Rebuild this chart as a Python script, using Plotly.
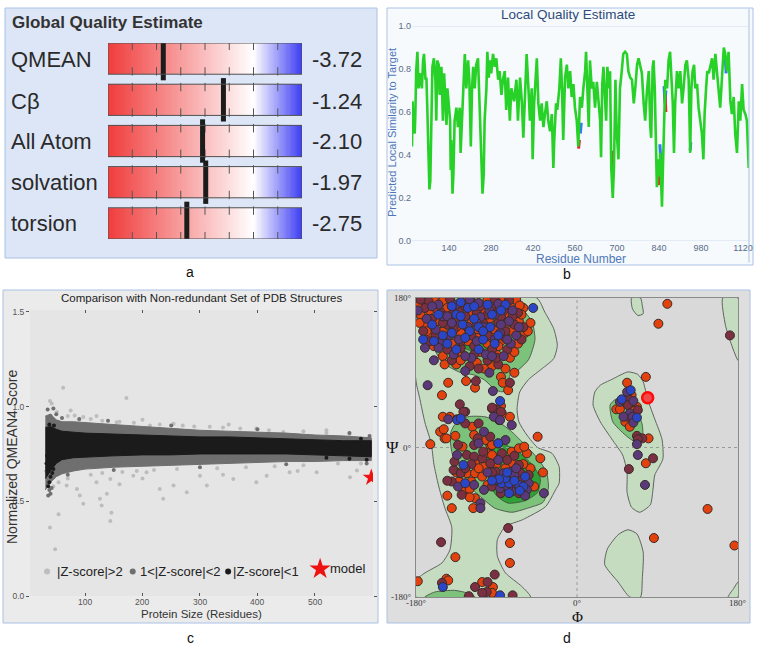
import plotly.graph_objects as go
import numpy as np

W, H = 759, 658
def px(x): return x / W
def py(y): return 1 - y / H

# ---------------- Panel a: global quality estimate ----------------
qa_labels = ["QMEAN", "Cβ", "All Atom", "solvation", "torsion"]
qa_values = [-3.72, -1.24, -2.10, -1.97, -2.75]
qa_value_text = ["-3.72", "-1.24", "-2.10", "-1.97", "-2.75"]
qa_scale = [-6, 2]
qa_ticks = [-5, -4, -3, -2, -1, 0, 1]

# ---------------- Panel b: local quality estimate ----------------
res_b = [17, 19, 21, 26, 28, 31, 35, 39, 46, 50, 54, 57, 62, 65, 68, 73, 75, 78, 82, 85, 90, 95, 98, 101, 106, 109,
         115, 120, 124, 128, 132, 135, 139, 144, 146, 148, 152, 155, 159, 165, 170, 176, 179, 184, 188, 193, 198,
         204, 208, 213, 217, 221, 226, 231, 237, 240, 245, 248, 252, 256, 259, 265, 268, 273, 276, 281, 287, 293,
         298, 304, 309, 315, 320, 326, 331, 337, 343, 348, 357, 365, 370,
         377, 383, 388, 394, 399, 405, 410, 416, 419, 424, 433, 438, 444, 449, 455, 460, 466, 471, 477, 483, 488,
         491, 497, 501, 508, 513, 517, 521, 527, 533, 538, 544, 549, 555, 560, 566, 571, 577, 583, 588, 594, 597,
         601, 606, 610, 616, 621, 627, 633, 638, 644, 647, 651, 655, 660, 664, 668, 673, 677, 681, 686, 690, 695,
         699, 705, 710, 716, 721, 727, 733, 738, 744,
         750, 756, 761, 767, 772, 778, 783, 789, 794, 800, 806, 811, 814, 819, 822, 826, 830, 833, 837, 841, 844,
         848, 850, 853, 857, 861, 867, 872, 877, 881, 886, 890, 894, 900, 906, 911, 917, 922, 928, 933, 939, 944,
         948, 952, 957, 961, 967, 972, 978, 983, 988, 992, 997, 1001, 1006, 1011, 1017, 1022, 1028, 1033, 1039,
         1044, 1050, 1056, 1061, 1067, 1072, 1078, 1083, 1089, 1094, 1100, 1106, 1111, 1117, 1122, 1128, 1133, 1139]
score_b = [0.44, 0.65, 0.56, 0.50, 0.58, 0.79, 0.88, 0.71, 0.78, 0.71, 0.84, 0.87, 0.75, 0.76, 0.62, 0.36, 0.24, 0.28,
           0.62, 0.81, 0.85, 0.75, 0.56, 0.84, 0.82, 0.68, 0.81, 0.56, 0.78, 0.68, 0.54, 0.71, 0.64, 0.56, 0.33, 0.47,
           0.22, 0.31, 0.56, 0.62, 0.53, 0.62, 0.41, 0.59, 0.78, 0.87, 0.71, 0.84, 0.75, 0.44, 0.71, 0.81, 0.71, 0.82,
           0.85, 0.71, 0.56, 0.33, 0.22, 0.31, 0.56, 0.71, 0.88, 0.76, 0.84, 0.78, 0.87, 0.81, 0.85, 0.75, 0.79, 0.68,
           0.75, 0.79, 0.61, 0.76, 0.56, 0.71, 0.65, 0.75, 0.56,
           0.76, 0.65, 0.48, 0.71, 0.87, 0.71, 0.56, 0.71, 0.38, 0.64, 0.85, 0.64, 0.56, 0.64, 0.53, 0.59, 0.65, 0.56,
           0.51, 0.59, 0.34, 0.47, 0.64, 0.61, 0.71, 0.85, 0.71, 0.47, 0.76, 0.82, 0.71, 0.79, 0.67, 0.73, 0.62, 0.56,
           0.44, 0.67, 0.62, 0.71, 0.79, 0.88, 0.71, 0.53, 0.84, 0.71, 0.74, 0.62, 0.74, 0.64, 0.56, 0.39, 0.73, 0.81,
           0.62, 0.56, 0.81, 0.71, 0.79, 0.34, 0.20, 0.34, 0.75, 0.51, 0.38, 0.71, 0.79, 0.87, 0.88, 0.87, 0.79, 0.76,
           0.75, 0.64, 0.71, 0.82, 0.85, 0.81, 0.78, 0.64, 0.56, 0.70, 0.79, 0.53, 0.48, 0.81, 0.84, 0.71, 0.48, 0.25,
           0.38, 0.30, 0.41, 0.22, 0.16, 0.33, 0.56, 0.75, 0.71, 0.84, 0.88, 0.79, 0.64, 0.41, 0.64, 0.79, 0.71, 0.79,
           0.64, 0.71, 0.82, 0.84, 0.75, 0.41, 0.71, 0.79, 0.82, 0.71, 0.73, 0.62, 0.56, 0.50, 0.38, 0.59, 0.71, 0.79,
           0.78, 0.82, 0.85, 0.75, 0.87, 0.79, 0.71, 0.62, 0.76, 0.90, 0.87, 0.79, 0.88, 0.65, 0.59, 0.67, 0.50, 0.41,
           0.65, 0.56, 0.73, 0.61, 0.59, 0.56, 0.34]
blue_segments = [([843, 846, 849], [0.45, 0.35, 0.30]), ([857, 860, 863], [0.72, 0.64, 0.70]),
                 ([578, 581], [0.50, 0.55]), ([944, 946], [0.42, 0.46]), ([1061, 1064], [0.85, 0.78])]
red_segments = [([860, 863], [0.68, 0.60]), ([683, 687], [0.42, 0.30]), ([572, 575], [0.43, 0.47]),
                ([838, 841], [0.26, 0.33])]
ticks_b = [140, 280, 420, 560, 700, 840, 980, 1120]

# ---------------- Panel c: comparison with PDB ----------------
band_res = [31, 40, 50, 60, 80, 100, 150, 200, 250, 300, 350, 400, 450, 500, 550, 598]
dark_upper = [0.95, 0.96, 0.93, 0.92, 0.92, 0.915, 0.905, 0.895, 0.885, 0.875, 0.87, 0.865, 0.86, 0.85, 0.845, 0.835]
dark_lower = [0.56, 0.60, 0.63, 0.645, 0.66, 0.67, 0.68, 0.685, 0.69, 0.695, 0.70, 0.705, 0.71, 0.71, 0.715, 0.715]
black_upper = [0.89, 0.895, 0.88, 0.87, 0.865, 0.86, 0.855, 0.85, 0.845, 0.84, 0.84, 0.835, 0.83, 0.825, 0.82, 0.82]
black_lower = [0.62, 0.66, 0.70, 0.72, 0.73, 0.735, 0.74, 0.745, 0.745, 0.75, 0.75, 0.75, 0.75, 0.745, 0.74, 0.735]
light_pts = [(62, 1.10), (42, 1.016), (82, 0.953), (172, 1.045), (39, 1.03), (51, 0.972), (97, 0.945), (155, 0.918),
             (213, 0.90), (254, 0.91), (317, 0.893), (398, 0.885), (445, 0.866), (532, 0.84), (596, 0.82),
             (45, 0.627), (54, 0.60), (68, 0.583), (86, 0.565), (91, 0.53), (97, 0.487), (126, 0.513), (129, 0.478),
             (138, 0.54), (144, 0.618), (184, 0.635), (207, 0.653), (230, 0.565), (236, 0.513), (254, 0.583),
             (277, 0.548), (300, 0.635), (312, 0.583), (358, 0.618), (398, 0.60), (416, 0.635), (456, 0.653),
             (503, 0.653), (561, 0.627), (573, 0.662), (39, 0.362), (48, 0.247), (54, 0.431), (144, 0.396),
             (146, 0.44), (45, 0.58), (70, 0.95), (90, 0.93), (110, 0.935), (130, 0.925), (160, 0.92),
             (185, 0.915), (230, 0.905), (270, 0.90), (290, 0.895), (340, 0.89), (370, 0.885), (420, 0.875),
             (480, 0.87), (520, 0.86), (560, 0.855), (70, 0.62), (110, 0.64), (130, 0.65), (165, 0.655),
             (190, 0.66), (220, 0.665), (260, 0.67), (330, 0.675), (380, 0.68), (430, 0.685), (480, 0.69),
             (540, 0.70), (580, 0.70), (120, 0.60), (160, 0.59), (200, 0.62), (340, 0.64), (470, 0.66),
             (75, 0.98), (120, 0.95), (200, 0.93), (350, 0.905), (520, 0.875)]
dark_pts = [(35, 0.985), (40, 0.95), (45, 0.99), (50, 0.96), (38, 0.56), (40, 0.54), (42, 0.57), (36, 0.53),
            (33, 0.66), (35, 0.64), (60, 0.94), (90, 0.935), (140, 0.925), (250, 0.9), (400, 0.88), (560, 0.86),
            (595, 0.845), (70, 0.64), (150, 0.665), (300, 0.68), (450, 0.695), (590, 0.70)]
black_pts = [(33, 0.70), (35, 0.68), (38, 0.60), (40, 0.63), (43, 0.65), (36, 0.58), (45, 0.67), (34, 0.74),
             (46, 0.90), (38, 0.905), (580, 0.83), (560, 0.725), (590, 0.72), (520, 0.73)]
model_pt = (598, 0.625)
ticks_c_x = [100, 200, 300, 400, 500]
ticks_c_y = [0.0, 0.5, 1.0, 1.5]
leg_dot_x = [34, 183, 349]
leg_text_x = [47, 192, 354]
leg_col = ["#bdbdbd", "#6f6f6f", "#1b1b1b"]
leg_txt = ["|Z-score|>2", "1<|Z-score|<2", "|Z-score|<1"]

# ---------------- Panel d: Ramachandran plot ----------------
ticks_d = [-180, 0, 180]
ticks_d_text = ["-180°", "0°", "180°"]
region_light = [
    [(-180, 180), (-45, 180), (-36, 163), (-26, 143), (-22, 123), (-26, 107), (-39, 95), (-54, 82), (-64, 67),
     (-67, 46), (-65, 31), (-56, 15), (-44, 0), (-28, -7), (-20, -23), (-20, -43), (-24, -51), (-35, -71),
     (-61, -87), (-80, -95), (-89, -111), (-89, -131), (-80, -151), (-62, -167), (-52, -180), (-180, -180),
     (-180, -160), (-170, -151), (-151, -139), (-142, -123), (-140, -96), (-148, -72), (-155, -45), (-160, -20),
     (-163, 5), (-170, 30), (-176, 60), (-180, 80)],
    [(20, 67), (18, 51), (26, 31), (39, 10), (51, -9), (56, -30), (56, -54), (61, -72), (70, -78), (82, -69),
     (85, -50), (87, -33), (96, -14), (95, 10), (87, 34), (79, 58), (74, 79), (68, 88), (57, 91), (39, 82), (26, 75)],
    [(61, 180), (62, 167), (68, 159), (74, 161), (73, 171), (71, 180)],
    [(46, -105), (34, -122), (31, -141), (46, -162), (59, -180), (71, -180), (73, -158), (74, -126), (67, -104),
     (57, -99)],
    [(163, 180), (166, 147), (173, 123), (180, 105), (180, 180)],
    [(169, -180), (175, -170), (180, -162), (180, -180)],
]
region_mid = [
    [(-180, 180), (-180, 159), (-173, 139), (-162, 123), (-151, 103), (-132, 91), (-114, 87), (-103, 81),
     (-92, 70), (-84, 67), (-78, 70), (-75, 87), (-65, 94), (-54, 106), (-47, 130), (-50, 151), (-58, 163),
     (-69, 177), (-69, 180)],
    [(-137, 27), (-122, 37), (-103, 37), (-88, 31), (-73, 19), (-58, 3), (-44, -13), (-34, -30), (-32, -49),
     (-38, -66), (-55, -73), (-73, -78), (-92, -73), (-106, -61), (-122, -45), (-133, -30), (-140, -5),
     (-142, 15)],
    [(37, 51), (40, 31), (54, 15), (65, 7), (73, 10), (73, 27), (68, 43), (63, 55), (52, 58), (43, 58)],
    [(-170, -180), (-159, -174), (-137, -172), (-120, -176), (-114, -180)],
]
region_dark = [
    [(-136, 147), (-120, 156), (-92, 151), (-80, 135), (-92, 120), (-120, 117), (-136, 127)],
    [(-97, 0), (-85, 5), (-66, -5), (-50, -21), (-41, -37), (-44, -54), (-58, -64), (-77, -67), (-90, -58),
     (-98, -42), (-100, -20)],
]
rama_orange = [
    (-172, 178), (-160, 178), (-150, 176), (-128, 178), (-100, 178), (-84, 176), (-68, 178), (-175, 160),
    (-165, 165), (-145, 168), (-120, 170), (-105, 165), (-90, 168), (-75, 170), (-60, 168), (-170, 148),
    (-155, 152), (-138, 155), (-118, 150), (-98, 155), (-80, 158), (-65, 152), (-52, 150), (-165, 135),
    (-150, 140), (-130, 138), (-110, 140), (-92, 142), (-72, 140), (-58, 138), (-160, 122), (-140, 125),
    (-122, 128), (-100, 125), (-85, 128), (-66, 125), (-150, 110), (-128, 112), (-108, 115), (-90, 112),
    (-75, 108), (-135, 100), (-112, 102), (-95, 98), (-80, 95), (-70, 90), (-85, 85), (-64, 171),
    (-178, 170), (-168, 140), (-158, 168), (-135, 145), (-112, 132), (-95, 132), (-78, 150), (-62, 160),
    (-55, 140), (-148, 100), (-130, 105), (-104, 95), (-88, 122), (-70, 115), (-176, 150), (-118, 160),
    (-151, 63), (-144, 78), (-124, 80), (-114, 72), (-77, 69), (-83, 78),
    (-150, 37), (-142, 37), (-153, 19), (-148, 11), (-164, 4), (-95, 47), (-84, 41), (-75, 37), (-44, 13),
    (-41, -13), (-38, -30), (-145, -58), (-140, -73), (-116, -73), (-125, -51), (-128, 1), (-97, 3),
    (-101, -7), (-95, -9), (-73, -5), (-65, -1), (-56, -7), (-114, -19), (-104, -23), (-73, -19),
    (-123, -31), (-114, -31), (-106, -35), (-132, -41), (-118, -41), (-48, -47), (-127, -51), (-114, -61),
    (-117, 25), (-115, 15), (-102, 9), (-95, 3), (-88, 5), (-94, 47), (-85, 50), (-59, 1),
    (-149, 22), (-136, 14), (-146, 11), (-52, -25), (-120, -50),
    (-110, -25), (-100, -45), (-90, -20), (-80, -25), (-60, -20), (-135, -30), (-120, -60),
    (-75, -115), (-75, -139), (-136, -132), (-178, -161), (-146, -158), (-144, -160), (-106, -162),
    (-94, -168), (-95, -175),
    (101, 173), (91, 149), (77, 85), (56, 78), (80, 11), (77, -19), (146, -74), (86, -109), (176, -118),
    (61, 63), (44, 46), (48, 46), (62, 48), (67, 49), (64, 44), (54, 31), (59, 25)]
rama_maroon = [
    (-166, 176), (-142, 179), (-118, 176), (-92, 179), (-76, 177), (-170, 168), (-152, 162), (-132, 165),
    (-112, 162), (-96, 168), (-82, 165), (-66, 162), (-162, 155), (-145, 148), (-125, 158), (-105, 150),
    (-88, 150), (-70, 148), (-172, 140), (-155, 130), (-138, 142), (-118, 135), (-100, 135), (-80, 132),
    (-62, 130), (-145, 118), (-130, 120), (-115, 122), (-95, 118), (-78, 118), (-140, 105), (-120, 98),
    (-100, 105), (-88, 100), (-75, 78), (-113, 80),
    (-175, 178), (-158, 135), (-140, 160), (-125, 170), (-108, 170), (-85, 158), (-72, 158), (-60, 145),
    (-150, 150), (-130, 128), (-115, 112), (-90, 108), (-165, 128), (-80, 140), (-100, 160), (-110, 95),
    (-131, 52), (-125, 43), (-89, 45), (-115, 3), (-84, -7), (-123, -9), (-115, -11), (-106, -13),
    (-97, -19), (-78, -15), (-65, -21), (-138, -27), (-130, -31), (-91, -29), (-63, -31), (-54, -33),
    (-140, -41), (-95, -47), (-65, -55), (-129, -57), (-134, 34), (-127, 43), (-125, 29), (-110, 29),
    (-111, 11), (-97, 13), (-87, 33), (-85, 43), (-95, 48), (-133, 3), (-62, -40), (-68, -47), (-137, -17),
    (-118, -20), (-70, -10), (-105, -5), (-95, -30), (-85, -55), (-125, -25), (-145, -40),
    (-77, -97), (-152, -114), (-151, -163), (-121, -179), (-114, -168), (-100, -162), (-101, -174),
    (-92, -153), (-72, -178), (-106, -175),
    (171, 135), (85, -13), (58, -26), (54, 58), (58, 58), (57, 51), (68, 45), (57, 37), (67, 14), (73, 11),
    (68, 10)]
rama_purple = [
    (-155, 172), (-135, 172), (-110, 174), (-88, 173), (-72, 165), (-168, 155), (-150, 158), (-130, 150),
    (-108, 157), (-92, 160), (-76, 152), (-158, 142), (-142, 135), (-122, 145), (-104, 145), (-86, 138),
    (-68, 135), (-150, 128), (-132, 130), (-112, 128), (-92, 130), (-74, 125), (-138, 112), (-118, 108),
    (-102, 112), (-82, 110), (-125, 92), (-98, 90), (-160, 105), (-167, 75), (-94, 68),
    (-178, 165), (-162, 170), (-145, 158), (-120, 178), (-98, 165), (-85, 148), (-65, 145), (-155, 120),
    (-125, 110), (-95, 110), (-140, 150), (-112, 150), (-78, 130), (-170, 120),
    (-110, 5), (-134, -9), (-88, -15), (-82, -31), (-73, -29), (-71, -39), (-54, -43), (-104, -51),
    (-86, -49), (-73, -53), (-56, -51), (-37, -55), (-108, -67), (-108, -73), (-144, 34), (-104, 19),
    (-93, 37), (-73, 27), (-80, 9), (-86, 33), (-70, -33), (-77, -48), (-133, -47),
    (-115, -45), (-100, -30), (-68, -25), (-58, -58),
    (56, 67), (48, 55), (63, 56), (59, 41), (52, 37), (62, 37), (63, 30), (67, 4), (68, -9), (76, -45)]
rama_blue = [
    (-140, 170), (-122, 168), (-100, 172), (-80, 172), (-162, 148), (-135, 160), (-115, 155), (-95, 160),
    (-128, 148), (-110, 145), (-140, 138), (-97, 145), (-120, 140), (-88, 135), (-145, 125), (-125, 132),
    (-105, 130), (-135, 118), (-110, 118), (-172, 130), (-49, 168), (-92, 125), (-86, 56),
    (-155, 160), (-130, 175), (-105, 140), (-150, 135), (-115, 170), (-85, 165), (-130, 158), (-160, 128),
    (-134, 33), (-88, 5), (-127, -21), (-125, -43), (-91, -39), (-84, -43), (-76, -43), (-65, -45),
    (-60, -47), (-76, -55), (-80, -37), (-58, -35), (-87, -38), (-130, 35),
    (-70, -40), (-95, -40), (-78, -30), (-64, -52),
    (-150, -168), (-86, -178),
    (60, 69), (50, 58), (67, 36)]
rama_flag = [(79, 60)]

# ================= Figure =================
fig = go.Figure()

# ---- Panel a ----
grad_edges = np.linspace(qa_scale[0], qa_scale[1], 161)
grad_centers = (grad_edges[:-1] + grad_edges[1:]) / 2
rows = list(range(len(qa_labels)))
fig.add_trace(go.Heatmap(
    x=grad_edges, y=[r - 0.5 for r in rows] + [rows[-1] + 0.5], z=[list(grad_centers)] * len(rows),
    zmin=qa_scale[0], zmax=qa_scale[1], showscale=False, ygap=10, hoverinfo="skip",
    colorscale=[[0, "#f03c3c"], [0.75, "#ffffff"], [1, "#3c3cf4"]], xaxis="x", yaxis="y"))
tick_x, tick_y = [], []
for r in rows:
    for t in qa_ticks:
        tick_x += [t, t]
        tick_y += [r - 0.31, r + 0.31]
fig.add_trace(go.Scatter(x=tick_x, y=tick_y, mode="markers", xaxis="x", yaxis="y", hoverinfo="skip",
                         marker=dict(symbol="line-ns", size=6, line=dict(color="#555555", width=1))))
fig.add_trace(go.Scatter(x=qa_values, y=rows, mode="markers", xaxis="x", yaxis="y", hoverinfo="skip",
                         marker=dict(symbol="line-ns", size=31, line=dict(color="#1c1c1c", width=5))))

# ---- Panel b ----
for xs, ys in blue_segments:
    fig.add_trace(go.Scatter(x=xs, y=ys, mode="lines", xaxis="x2", yaxis="y2", hoverinfo="skip",
                             line=dict(color="#2f7de8", width=3)))
for xs, ys in red_segments:
    fig.add_trace(go.Scatter(x=xs, y=ys, mode="lines", xaxis="x2", yaxis="y2", hoverinfo="skip",
                             line=dict(color="#e8262a", width=3)))
fig.add_trace(go.Scatter(x=res_b, y=score_b, mode="lines", xaxis="x2", yaxis="y2", hoverinfo="skip",
                         line=dict(color="#27d127", width=2.6)))

# ---- Panel c ----
fig.add_trace(go.Scatter(x=[p[0] for p in light_pts], y=[p[1] for p in light_pts], mode="markers",
                         xaxis="x3", yaxis="y3", hoverinfo="skip",
                         marker=dict(color="#bdbdbd", size=4)))
fig.add_trace(go.Scatter(x=band_res + band_res[::-1], y=dark_upper + dark_lower[::-1], mode="lines",
                         fill="toself", fillcolor="#6f6f6f", line=dict(color="#6f6f6f", width=1),
                         xaxis="x3", yaxis="y3", hoverinfo="skip"))
fig.add_trace(go.Scatter(x=[p[0] for p in dark_pts], y=[p[1] for p in dark_pts], mode="markers",
                         xaxis="x3", yaxis="y3", hoverinfo="skip",
                         marker=dict(color="#6f6f6f", size=4)))
fig.add_trace(go.Scatter(x=band_res + band_res[::-1], y=black_upper + black_lower[::-1], mode="lines",
                         fill="toself", fillcolor="#1b1b1b", line=dict(color="#1b1b1b", width=1),
                         xaxis="x3", yaxis="y3", hoverinfo="skip"))
fig.add_trace(go.Scatter(x=[p[0] for p in black_pts], y=[p[1] for p in black_pts], mode="markers",
                         xaxis="x3", yaxis="y3", hoverinfo="skip",
                         marker=dict(color="#1b1b1b", size=4)))
fig.add_trace(go.Scatter(x=[model_pt[0]], y=[model_pt[1]], mode="markers", xaxis="x3", yaxis="y3",
                         hoverinfo="skip", marker=dict(symbol="star", color="#ee1111", size=13)))
fig.add_trace(go.Scatter(x=leg_dot_x, y=[0.13] * 3, mode="markers", xaxis="x3", yaxis="y3", hoverinfo="skip",
                         marker=dict(color=leg_col, size=6)))
fig.add_trace(go.Scatter(x=[509], y=[0.143], mode="markers", xaxis="x3", yaxis="y3", hoverinfo="skip",
                         marker=dict(symbol="star", color="#ee1111", size=16)))

# ---- Panel d ----
def add_regions(polys, fill, edge):
    for poly in polys:
        fig.add_trace(go.Scatter(x=[p[0] for p in poly] + [poly[0][0]], y=[p[1] for p in poly] + [poly[0][1]],
                                 mode="lines", fill="toself", fillcolor=fill,
                                 line=dict(color=edge, width=1, shape="spline", smoothing=0.6),
                                 xaxis="x4", yaxis="y4", hoverinfo="skip"))
add_regions(region_light, "#c6dcc1", "#5d645d")
add_regions(region_mid, "#7cc27a", "#4f5f4f")
add_regions(region_dark, "#2fa035", "#3f5f3f")
fig.add_trace(go.Scatter(x=[0, 0], y=[-180, 180], mode="lines", xaxis="x4", yaxis="y4", hoverinfo="skip",
                         line=dict(color="#9a9a9a", width=1, dash="dot")))
fig.add_trace(go.Scatter(x=[-180, 180], y=[0, 0], mode="lines", xaxis="x4", yaxis="y4", hoverinfo="skip",
                         line=dict(color="#9a9a9a", width=1, dash="dot")))
for pts, col in [(rama_orange, "#e2420d"), (rama_maroon, "#7a3041"), (rama_purple, "#59397a"),
                 (rama_blue, "#2a46c8")]:
    fig.add_trace(go.Scatter(x=[p[0] for p in pts], y=[p[1] for p in pts], mode="markers",
                             xaxis="x4", yaxis="y4", hoverinfo="skip",
                             marker=dict(color=col, size=9, line=dict(color="#3a2a2a", width=1))))
fig.add_trace(go.Scatter(x=[p[0] for p in rama_flag], y=[p[1] for p in rama_flag], mode="markers",
                         xaxis="x4", yaxis="y4", hoverinfo="skip",
                         marker=dict(color="#f04a4a", size=11, line=dict(color="#ff0a0a", width=2.5))))

# ================= Layout =================
SANS = "Liberation Sans, Arial, sans-serif"
SERIF = "Liberation Serif, Times New Roman, serif"

shapes = [
    dict(type="rect", xref="paper", yref="paper", x0=px(5), x1=px(377), y0=py(258), y1=py(8),
         fillcolor="#dde6f7", line=dict(color="#a9c2e6", width=1), layer="below"),
    dict(type="rect", xref="paper", yref="paper", x0=px(387), x1=px(753), y0=py(265), y1=py(8),
         fillcolor="#f6fafd", line=dict(color="#a9c2e6", width=1), layer="below"),
    dict(type="rect", xref="paper", yref="paper", x0=px(3), x1=px(378), y0=py(623), y1=py(290),
         fillcolor="#ebebeb", line=dict(color="#a9c2e6", width=1), layer="below"),
    dict(type="rect", xref="paper", yref="paper", x0=px(387), x1=px(750), y0=py(623), y1=py(290),
         fillcolor="#dedede", line=dict(color="#a9c2e6", width=1), layer="below"),
    dict(type="rect", xref="x3 domain", yref="y3 domain", x0=0, x1=1, y0=0, y1=1,
         fillcolor="#e5e5e5", line=dict(width=0), layer="below"),
    dict(type="rect", xref="x4 domain", yref="y4 domain", x0=0, x1=1, y0=0, y1=1,
         fillcolor="#d9d9d9", line=dict(width=0), layer="below"),
    dict(type="line", xref="x2 domain", yref="y2", x0=0, x1=1, y0=1, y1=1,
         line=dict(color="#dce7f3", width=1.5), layer="below"),
    dict(type="line", xref="x2 domain", yref="y2", x0=0, x1=1, y0=0, y1=0,
         line=dict(color="#dce7f3", width=1.5), layer="below"),
    dict(type="line", xref="x2 domain", yref="y2 domain", x0=1, x1=1, y0=-0.1, y1=1.08,
         line=dict(color="#a9c2e6", width=1)),
]
for r in rows:
    shapes.append(dict(type="rect", xref="x", yref="y", x0=qa_scale[0], x1=qa_scale[1],
                       y0=r - 0.379, y1=r + 0.379, line=dict(color="#505050", width=1)))

def pa(text, x, y, size, color="#222222", family=SANS, xanchor="center", **kw):
    return dict(text=text, x=px(x), y=py(y), xref="paper", yref="paper", showarrow=False,
                xanchor=xanchor, yanchor="middle",
                font=dict(family=family, size=size, color=color), **kw)

ann = [pa("<b>Global Quality Estimate</b>", 10, 22, 17, "#333333", xanchor="left")]
row_px = [59, 101, 141.5, 182.5, 223.5]
for lab, val, ypx in zip(qa_labels, qa_value_text, row_px):
    ann.append(pa(lab, 9, ypx, 22, "#2a2a2a", xanchor="left"))
    ann.append(pa(val, 310, ypx, 22, "#2a2a2a", xanchor="left"))
ann += [
    pa("Local Quality Estimate", 568, 15, 13.5, "#2f4a78"),
    pa("Predicted Local Similarity to Target", 392, 133, 11, "#4f77b8", textangle=-90),
    pa("Residue Number", 581, 259, 12, "#4f77b8"),
    pa("Comparison with Non-redundant Set of PDB Structures", 201, 298, 11.5, "#222222"),
    pa("Normalized QMEAN4 Score", 12, 457, 14, "#333333", textangle=-90),
    pa("Protein Size (Residues)", 202, 614, 11.5, "#333333"),
    pa("Ψ", 392, 447, 17, "#111111", family=SERIF),
    pa("Φ", 577, 617, 15, "#111111", family=SERIF),
    pa("a", 190, 272, 14, "#111111"),
    pa("b", 567, 274.5, 14, "#111111"),
    pa("c", 190, 638, 14, "#111111"),
    pa("d", 567, 638, 14, "#111111"),
]
for tx, t in zip(leg_text_x, leg_txt):
    ann.append(dict(text=t, x=tx, y=0.13, xref="x3", yref="y3", xanchor="left", yanchor="middle",
                    showarrow=False, font=dict(family=SANS, size=13, color="#222222")))
ann.append(dict(text="model", x=522, y=0.143, xref="x3", yref="y3", xanchor="left", yanchor="middle",
                showarrow=False, font=dict(family=SANS, size=13, color="#222222")))
# x tick labels of panels c and d, placed on the axes' own scales
for v in ticks_c_x:
    ann.append(dict(text=str(v), x=v, y=py(601.5), xref="x3", yref="paper", xanchor="center",
                    yanchor="middle", showarrow=False, font=dict(family=SANS, size=8.5, color="#555555")))
for v, t in zip(ticks_d, ticks_d_text):
    ann.append(dict(text=t, x=v, y=py(602.5), xref="x4", yref="paper", xanchor="center",
                    yanchor="middle", showarrow=False, font=dict(family=SERIF, size=9, color="#333333")))

fig.update_layout(
    width=W, height=H, margin=dict(l=0, r=0, t=0, b=0, autoexpand=False), paper_bgcolor="white",
    plot_bgcolor="rgba(0,0,0,0)", showlegend=False, shapes=shapes, annotations=ann,
    xaxis=dict(domain=[px(108), px(302)], range=qa_scale, anchor="y", visible=False, automargin=False),
    yaxis=dict(domain=[py(239), py(43)], range=[4.379, -0.379], anchor="x", visible=False, automargin=False),
    xaxis2=dict(domain=[px(412), px(749)], range=[17, 1140], anchor="y2", tickvals=ticks_b, automargin=False,
                showgrid=False, zeroline=False, showline=False, ticks="",
                tickfont=dict(family=SANS, size=9, color="#5a6b88")),
    yaxis2=dict(domain=[py(241), py(26)], range=[0, 1], anchor="x2", tickvals=[0, 0.2, 0.4, 0.6, 0.8, 1.0],
                ticktext=["0.0", "0.2", "0.4", "0.6", "0.8", "1.0"], showgrid=False, zeroline=False,
                showline=False, ticks="", automargin=False, tickfont=dict(family=SANS, size=9, color="#5a6b88")),
    xaxis3=dict(domain=[px(30), px(373)], range=[4.3, 601], anchor="y3", tickvals=ticks_c_x, automargin=False,
                showgrid=False, zeroline=False, showline=False, ticks="inside", ticklen=3, mirror="ticks",
                tickcolor="#555555", showticklabels=False),
    yaxis3=dict(domain=[py(596), py(310)], range=[0, 1.51], anchor="x3", tickvals=ticks_c_y,
                ticktext=["0.0", "0.5", "1.0", "1.5"], showgrid=False, zeroline=False, showline=False,
                ticks="outside", ticklen=3, mirror="ticks", tickcolor="#555555", automargin=False,
                tickfont=dict(family=SANS, size=8.5, color="#555555")),
    xaxis4=dict(domain=[px(416), px(738)], range=[-180, 180], anchor="y4", tickvals=ticks_d,
                showgrid=False, zeroline=False, showline=True, showticklabels=False,
                mirror=True, linecolor="#8a8a8a", ticks="", automargin=False),
    yaxis4=dict(domain=[py(597), py(298)], range=[-180, 180], anchor="x4", tickvals=ticks_d,
                ticktext=ticks_d_text, showgrid=False, zeroline=False, showline=True,
                mirror=True, linecolor="#8a8a8a", ticks="", automargin=False, ticklabelstandoff=2,
                tickfont=dict(family=SERIF, size=9, color="#333333")),
)

fig.write_html("out.html", config={"displayModeBar": False},
               post_script="document.body.style.margin='0';document.body.style.overflow='hidden';")
